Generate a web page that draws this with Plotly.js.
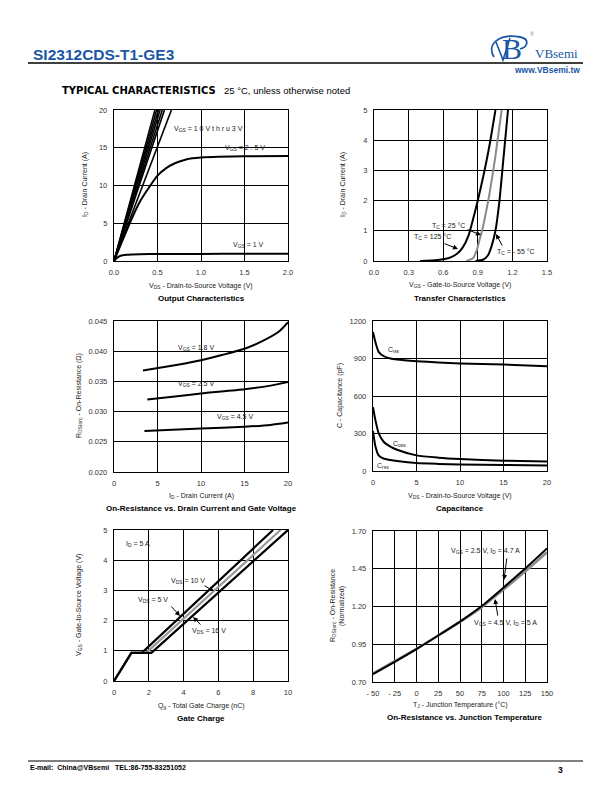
<!DOCTYPE html>
<html>
<head>
<meta charset="utf-8">
<script src="https://cdn.plot.ly/plotly-3.0.1.min.js"></script>
<style>
  html, body { margin: 0; padding: 0; background: #fff; }
  #chart { width: 612px; height: 792px; }
</style>
</head>
<body>
<div id="chart"></div>
<script>
// Output characteristics (ID vs VDS)
const outSteepEndVds = [0.47, 0.49, 0.51, 0.53, 0.555, 0.58, 0.66]; // VGS = 10 V thru 3 V, reach 20 A
const outSteepId = [0, 20];
const outVds25 = [0, 0.1, 0.2, 0.3, 0.4, 0.5, 0.6, 0.7, 0.8, 0.9, 1.0, 1.2, 1.5, 2.0];
const outId25 = [0, 2.8, 5.5, 7.9, 9.7, 11.3, 12.3, 12.95, 13.35, 13.6, 13.72, 13.82, 13.86, 13.9];
const outVds1 = [0, 0.03, 0.06, 0.1, 0.15, 0.2, 0.3, 0.5, 1.0, 1.5, 2.0];
const outId1 = [0, 0.35, 0.6, 0.75, 0.83, 0.87, 0.9, 0.92, 0.94, 0.96, 0.97];

// Transfer characteristics (ID vs VGS)
const trVgs125 = [0.4, 0.55, 0.65, 0.72, 0.77, 0.82, 0.86, 0.9, 0.95, 1.0, 1.053];
const trId125 = [0, 0.03, 0.1, 0.24, 0.45, 0.85, 1.4, 2.0, 2.85, 3.8, 5.0];
const trVgs25 = [0.8, 0.86, 0.89, 0.915, 0.94, 0.97, 1.0, 1.05, 1.107];
const trId25 = [0, 0.1, 0.35, 0.7, 1.05, 1.6, 2.2, 3.4, 5.0];
const trVgsM55 = [0.88, 0.95, 0.99, 1.02, 1.053, 1.088, 1.12, 1.162];
const trIdM55 = [0, 0.05, 0.2, 0.5, 1.0, 2.0, 3.3, 5.0];

// On-resistance vs drain current
const ronId18 = [3.33, 5.06, 7.5, 10.0, 12.5, 15.0, 17.1, 19.0, 20.0];
const ronR18 = [0.0368, 0.0372, 0.0378, 0.0385, 0.0394, 0.0404, 0.0417, 0.0433, 0.0448];
const ronId25 = [3.83, 7.0, 10.0, 15.0, 18.0, 20.0];
const ronR25 = [0.0320, 0.0325, 0.0330, 0.0337, 0.0343, 0.0349];
const ronId45 = [3.5, 10.0, 15.0, 18.0, 20.0];
const ronR45 = [0.0268, 0.0272, 0.0275, 0.0278, 0.0282];

// Capacitance vs VDS
const capVds = [0, 0.27, 0.65, 1.2, 2.0, 2.76, 5.0, 7.5, 10, 15, 20];
const capCiss = [1112, 1033, 953, 920, 900, 892, 879, 868, 860, 852, 839];
const capCoss = [510, 409, 303, 236, 195, 170, 125, 107, 96, 83, 77];
const capCrss = [320, 200, 125, 100, 88, 80, 64, 57, 52, 48, 45];

// Gate charge
const qgVds5 = [0, 1.0, 1.6, 9.14];
const qgVds10 = [0, 1.0, 1.85, 9.57];
const qgVds16 = [0, 1.0, 2.15, 10.0];
const qgVgs = [0, 0.93, 0.93, 5.0];

// On-resistance vs junction temperature
const tjTemp = [-50, -25, 0, 25, 50, 75, 100, 125, 150];
const tjRon25 = [0.752, 0.834, 0.918, 1.008, 1.1, 1.203, 1.325, 1.452, 1.585];
const tjRon45 = [0.757, 0.838, 0.92, 1.008, 1.098, 1.196, 1.312, 1.433, 1.56];

const W = 612, H = 792;
const px = (x) => x / W;
const py = (y) => 1 - y / H;
const FONT = 'Liberation Sans, Arial, sans-serif';
const BLUE = '#1b57a6';

function axis(lo, hi, range, dtick, extra) {
  return Object.assign({
    domain: [px(lo), px(hi)],
    range: range,
    dtick: dtick,
    tick0: range[0],
    showgrid: true, gridcolor: '#000', gridwidth: 1,
    showline: true, linecolor: '#000', linewidth: 1.2, mirror: true,
    zeroline: false, ticks: '', fixedrange: true,
    ticklabelstandoff: 4,
    tickfont: {family: FONT, size: 7.5, color: '#333'}
  }, extra || {});
}
function yaxis(top, bottom, range, dtick, anchor, extra) {
  const a = axis(0, 1, range, dtick, extra);
  a.domain = [py(bottom), py(top)];
  a.anchor = anchor;
  return a;
}

const black = (w) => ({color: '#000', width: w || 2, shape: 'spline', smoothing: 0.6});
const grey = (w) => ({color: '#8a8a8a', width: w || 2, shape: 'spline', smoothing: 0.6});

const data = [];
outSteepEndVds.forEach((v) => {
  data.push({x: [0, v], y: outSteepId, xaxis: 'x', yaxis: 'y', mode: 'lines', line: {color: '#000', width: 1.6}});
});
data.push({x: outVds25, y: outId25, xaxis: 'x', yaxis: 'y', mode: 'lines', line: black()});
data.push({x: outVds1, y: outId1, xaxis: 'x', yaxis: 'y', mode: 'lines', line: black()});

data.push({x: trVgs125, y: trId125, xaxis: 'x2', yaxis: 'y2', mode: 'lines', line: black()});
data.push({x: trVgs25, y: trId25, xaxis: 'x2', yaxis: 'y2', mode: 'lines', line: grey()});
data.push({x: trVgsM55, y: trIdM55, xaxis: 'x2', yaxis: 'y2', mode: 'lines', line: black()});

data.push({x: ronId18, y: ronR18, xaxis: 'x3', yaxis: 'y3', mode: 'lines', line: black()});
data.push({x: ronId25, y: ronR25, xaxis: 'x3', yaxis: 'y3', mode: 'lines', line: black()});
data.push({x: ronId45, y: ronR45, xaxis: 'x3', yaxis: 'y3', mode: 'lines', line: black()});

data.push({x: capVds, y: capCiss, xaxis: 'x4', yaxis: 'y4', mode: 'lines', line: black()});
data.push({x: capVds, y: capCoss, xaxis: 'x4', yaxis: 'y4', mode: 'lines', line: black()});
data.push({x: capVds, y: capCrss, xaxis: 'x4', yaxis: 'y4', mode: 'lines', line: black()});

data.push({x: qgVds5, y: qgVgs, xaxis: 'x5', yaxis: 'y5', mode: 'lines', line: {color: '#000', width: 2.2}});
data.push({x: qgVds10, y: qgVgs, xaxis: 'x5', yaxis: 'y5', mode: 'lines', line: {color: '#999', width: 2.2}});
data.push({x: qgVds16, y: qgVgs, xaxis: 'x5', yaxis: 'y5', mode: 'lines', line: {color: '#000', width: 2.2}});

data.push({x: tjTemp, y: tjRon45, xaxis: 'x6', yaxis: 'y6', mode: 'lines', line: grey(2.6)});
data.push({x: tjTemp, y: tjRon25, xaxis: 'x6', yaxis: 'y6', mode: 'lines', line: black(2)});

// text helpers
const anns = [];
function txt(x, y, text, opts) {
  anns.push(Object.assign({
    xref: 'paper', yref: 'paper', x: px(x), y: py(y), text: text, showarrow: false,
    xanchor: 'center', yanchor: 'middle',
    font: {family: FONT, size: 7, color: '#222'}
  }, opts || {}));
}
function arrow(x0, y0, x1, y1) {
  anns.push({
    xref: 'paper', yref: 'paper', x: px(x1), y: py(y1), ax: x0 - x1, ay: y0 - y1,
    text: '', showarrow: true, arrowhead: 2, arrowsize: 1, arrowwidth: 1, arrowcolor: '#000', standoff: 0
  });
}
const ytitle = (x, y, text) => txt(x, y, text, {textangle: -90});
const sub = (x, y, text) => txt(x, y, text, {font: {family: FONT, size: 8, color: '#000', weight: 'bold'}});

// header
txt(31, 55, 'SI2312CDS-T1-GE3', {xanchor: 'left', font: {family: FONT, size: 15.5, color: BLUE, weight: 'bold'}});
txt(582, 70, 'www.VBsemi.tw', {xanchor: 'right', font: {family: FONT, size: 8.5, color: BLUE, weight: 'bold'}});
txt(533, 53, 'VBsemi', {xanchor: 'left', font: {family: 'Liberation Serif, serif', size: 13, color: BLUE}});
txt(532, 34, '®', {font: {family: FONT, size: 5, color: '#777'}});
txt(512, 49, 'B', {font: {family: 'Liberation Serif, serif', size: 30, color: BLUE}});
txt(60, 90, 'TYPICAL CHARACTERISTICS', {xanchor: 'left', font: {family: 'DejaVu Sans, sans-serif', size: 10, color: '#000', weight: 'bold'}});
txt(222, 90, '25 °C, unless otherwise noted', {xanchor: 'left', font: {family: FONT, size: 9.5, color: '#000'}});

// footer
txt(28, 767, 'E-mail:  China@VBsemi   TEL:86-755-83251052', {xanchor: 'left', font: {family: FONT, size: 7, color: '#000', weight: 'bold'}});
txt(560, 770, '3', {font: {family: FONT, size: 8.5, color: '#000', weight: 'bold'}});

// chart 1
txt(208, 129, 'V<sub>GS</sub> = 1 0 V t h r u 3 V');
txt(245, 148, 'V<sub>GS</sub> = 2 . 5 V');
txt(248, 245, 'V<sub>GS</sub> = 1 V');
txt(201, 286, 'V<sub>DS</sub> - Drain-to-Source Voltage (V)');
sub(201, 298, 'Output Characteristics');
ytitle(85, 185, 'I<sub>D</sub> - Drain Current (A)');

// chart 2
txt(449, 226, 'T<sub>C</sub> = 25 °C');
txt(432, 237, 'T<sub>C</sub> = 125 °C');
txt(516, 252, 'T<sub>C</sub> = - 55 °C');
arrow(466, 229, 481, 235);
arrow(443, 243, 458, 249);
arrow(503, 247, 496, 234);
txt(460, 285, 'V<sub>GS</sub> - Gate-to-Source Voltage (V)');
sub(460, 298, 'Transfer Characteristics');
ytitle(343, 185, 'I<sub>D</sub> - Drain Current (A)');

// chart 3
txt(196, 348, 'V<sub>GS</sub> = 1.8 V');
txt(196, 384, 'V<sub>GS</sub> = 2.5 V');
txt(235, 417, 'V<sub>GS</sub> = 4.5 V');
txt(201, 496, 'I<sub>D</sub> - Drain Current (A)');
sub(201, 509, 'On-Resistance vs. Drain Current and Gate Voltage');
ytitle(79, 396, 'R<sub>DS(on)</sub> - On-Resistance (Ω)');

// chart 4
txt(394, 350, 'C<sub>iss</sub>');
txt(399, 444, 'C<sub>oss</sub>');
txt(383, 466, 'C<sub>rss</sub>');
txt(460, 496, 'V<sub>DS</sub> - Drain-to-Source Voltage (V)');
sub(460, 508, 'Capacitance');
ytitle(340, 396, 'C - Capacitance (pF)');

// chart 5
txt(138, 544, 'I<sub>D</sub> = 5 A');
txt(188, 581, 'V<sub>DS</sub> = 10 V');
txt(153, 600, 'V<sub>DS</sub> = 5 V');
txt(209, 631, 'V<sub>DS</sub> = 16 V');
arrow(203, 585, 214, 591);
arrow(170, 605, 180, 616);
arrow(202, 626, 193, 617);
txt(201, 706, 'Q<sub>g</sub> - Total Gate Charge (nC)');
sub(201, 718, 'Gate Charge');
ytitle(79, 605, 'V<sub>GS</sub> - Gate-to-Source Voltage (V)');

// chart 6
txt(485, 551, 'V<sub>GS</sub> = 2.5 V, I<sub>D</sub> = 4.7 A');
txt(506, 623, 'V<sub>GS</sub> = 4.5 V, I<sub>D</sub> = 5 A');
arrow(507, 557, 504, 580);
arrow(498, 617, 495, 599);
txt(460, 705, 'T<sub>J</sub> - Junction Temperature (°C)');
sub(465, 717, 'On-Resistance vs. Junction Temperature');
ytitle(333, 606, 'R<sub>DS(on)</sub> - On-Resistance');
ytitle(342, 606, '(Normalized)');

const shapes = [
  {type: 'line', xref: 'paper', yref: 'paper', x0: px(28), x1: px(583), y0: py(63), y1: py(63), line: {color: '#000', width: 1.5}},
  {type: 'line', xref: 'paper', yref: 'paper', x0: px(28), x1: px(583), y0: py(761), y1: py(761), line: {color: '#000', width: 1}},
  // logo swoosh
  {type: 'path', xref: 'paper', yref: 'paper',
   path: 'M ' + px(494) + ',' + py(57) + ' C ' + px(486) + ',' + py(44) + ' ' + px(500) + ',' + py(33) + ' ' + px(520) + ',' + py(37) +
         ' C ' + px(530) + ',' + py(39) + ' ' + px(528) + ',' + py(47) + ' ' + px(520) + ',' + py(49),
   line: {color: BLUE, width: 1.8}},
  {type: 'path', xref: 'paper', yref: 'paper',
   path: 'M ' + px(496) + ',' + py(42) + ' L ' + px(503) + ',' + py(60) + ' L ' + px(510) + ',' + py(38),
   line: {color: BLUE, width: 1.6}}
];

const layout = {
  width: W, height: H,
  margin: {l: 0, r: 0, t: 0, b: 0},
  paper_bgcolor: '#fff', plot_bgcolor: '#fff',
  showlegend: false,
  xaxis: axis(114, 288, [0, 2], 0.5, {anchor: 'y', tickformat: '.1f'}),
  yaxis: yaxis(110, 261, [0, 20], 5, 'x'),
  xaxis2: axis(374, 547, [0, 1.5], 0.3, {anchor: 'y2', tickformat: '.1f'}),
  yaxis2: yaxis(110, 261, [0, 5], 1, 'x2'),
  xaxis3: axis(114, 288, [0, 20], 5, {anchor: 'y3'}),
  yaxis3: yaxis(321, 472, [0.020, 0.045], 0.005, 'x3', {tickformat: '.3f'}),
  xaxis4: axis(373, 547, [0, 20], 5, {anchor: 'y4'}),
  yaxis4: yaxis(321, 471, [0, 1200], 300, 'x4'),
  xaxis5: axis(114, 288, [0, 10], 2, {anchor: 'y5'}),
  yaxis5: yaxis(530, 681, [0, 5], 1, 'x5'),
  xaxis6: axis(373, 547, [-50, 150], 25, {anchor: 'y6', tickmode: 'array', tickvals: tjTemp,
    ticktext: tjTemp.map((t) => t < 0 ? '- ' + Math.abs(t) : String(t))}),
  yaxis6: yaxis(531, 682, [0.70, 1.70], 0.25, 'x6', {tickformat: '.2f'}),
  annotations: anns,
  shapes: shapes
};

Plotly.newPlot('chart', data, layout, {staticPlot: true, displayModeBar: false});
</script>
</body>
</html>
